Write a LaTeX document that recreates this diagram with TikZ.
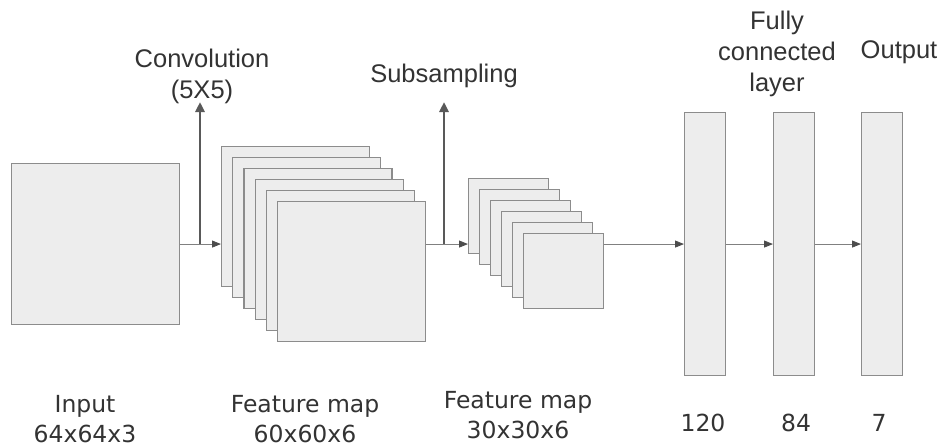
\documentclass[tikz,border=0pt]{standalone}
\usepackage{fontspec}
\setmainfont{Liberation Sans}
\newfontfamily\dimfont{DejaVu Sans}
\usetikzlibrary{positioning,arrows.meta}

\begin{document}
\begin{tikzpicture}[x=1pt, y=-1pt,
    layer/.style = {rectangle, draw=black!45, fill=black!7, line width=1.1pt, inner sep=0pt, anchor=north west},
    flow/.style = {draw=black!50, line width=0.8pt, -{Triangle[length=9pt, width=7pt, color=black!70]}},
    op/.style = {draw=black!65, line width=2.6pt, -{Triangle[length=10pt, width=9pt]}},
    toplabel/.style = {align=center, text=black!80, font=\fontsize{25.5}{31}\selectfont},
    dimlabel/.style = {align=center, text=black!80, font=\dimfont\fontsize{23.5}{30}\selectfont}]
  \useasboundingbox (0,0) rectangle (942,447);

  % Layers.
  \node at (11, 163) [layer, minimum width=168, minimum height=161, name=Input] {};
  \foreach \i in {1,...,6}
    \node at ({221+11.2*(\i-1)}, {146+11*(\i-1)}) [layer, minimum width=148, minimum height=140, name=FeatA\i] {};
  \foreach \i in {1,...,6}
    \node at ({468+11*(\i-1)}, {178+11*(\i-1)}) [layer, minimum width=80, minimum height=75, name=FeatB\i] {};
  \node at (684, 112) [layer, minimum width=41, minimum height=263, name=Hidden] {};
  \node at (773, 112) [layer, minimum width=41, minimum height=263, name=Connected] {};
  \node at (861, 112) [layer, minimum width=41, minimum height=263, name=Output] {};

  % Operations.
  \coordinate (convBase) at (200, 243.5);
  \coordinate (convTop) at (200, 102);
  \coordinate (subBase) at (444, 243.5);
  \coordinate (subTop) at (444, 102);
  \node at (202, 76) [toplabel, name=ConvText] {Convolution\\(5X5)};
  \node at (444, 76) [toplabel, name=SubText] {Subsampling};
  \node at (777, 54) [toplabel, name=FullText] {Fully\\connected\\layer};
  \node at (899, 52) [toplabel, name=OutText] {Output};

  % Data flow.
  \draw [flow] (Input.east)
               to (FeatA1.west |- Input.east);
  \draw [op] (convBase) to (convTop);
  \draw [flow] (FeatA6.east |- Input.east)
               to (FeatB1.west |- Input.east);
  \draw [op] (subBase) to (subTop);
  \draw [flow] (FeatB6.east |- Input.east)
               to (Hidden.west);
  \draw [flow] (Hidden.east)
               to (Connected.west);
  \draw [flow] (Connected.east)
               to (Output.west);

  % Sizes.
  \node at (85, 419) [dimlabel, name=InputSize] {Input\\64x64x3};
  \node at (305, 419) [dimlabel, name=FeatASize] {Feature map\\60x60x6};
  \node at (518, 415) [dimlabel, name=FeatBSize] {Feature map\\30x30x6};
  \node at (703, 423) [dimlabel, name=HiddenSize] {120};
  \node at (796, 423) [dimlabel, name=ConnectedSize] {84};
  \node at (879, 423) [dimlabel, name=OutputSize] {7};
\end{tikzpicture}
\end{document}
